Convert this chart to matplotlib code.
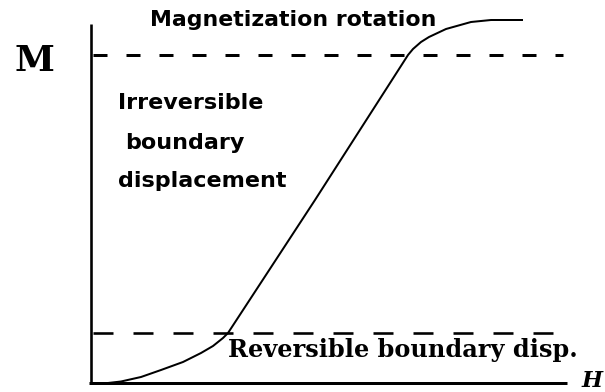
import matplotlib
matplotlib.use("Agg")
import matplotlib.pyplot as plt

plt.rcParams['lines.scale_dashes'] = False

# Curve: H (field) and M (magnetization), arbitrary units
H_curve = [17, 30, 50, 70, 92, 110, 122, 132, 137, 224, 317, 322, 330, 338, 355, 380, 400, 431]
M_curve = [0, 1.5, 6, 13, 21, 30, 37, 45, 50, 183, 328, 334, 341, 346, 354, 361, 363, 363]

# Dashed reference levels
upper_level = 328
lower_level = 50
upper_span = [2, 472]
lower_span = [2, 466]

rotation_label = "Magnetization rotation"
irreversible_lines = ["Irreversible", "boundary", "displacement"]
reversible_label = "Reversible boundary disp."
y_label = "M"
x_label = "H"

px = 1 / 100
fig = plt.figure(figsize=(605 * px, 392 * px), dpi=100)
ax = fig.add_axes([0, 0, 1, 1])
ax.set_xlim(-91, 514)
ax.set_ylim(-9, 383)
ax.axis('off')

pt = 0.72  # points per pixel at 100 dpi

# axes lines
ax.plot([0, 0], [0, 359], color='black', lw=2.6 * pt, solid_capstyle='butt')
ax.plot([-2, 476], [0, 0], color='black', lw=3.0 * pt, solid_capstyle='butt')

# dashed levels
ax.plot(upper_span, [upper_level, upper_level], color='black', lw=3.0 * pt,
        dashes=(14 * pt, 19 * pt))
ax.plot(lower_span, [lower_level, lower_level], color='black', lw=2.6 * pt,
        dashes=(20 * pt, 20 * pt))

# curve
ax.plot(H_curve, M_curve, color='black', lw=2.0 * pt, solid_joinstyle='round')

# texts
ax.text(59, 363, rotation_label, fontsize=15.8, fontweight='bold',
        family='DejaVu Sans', ha='left', va='center')
for (x0, y0), line in zip([(27, 280), (34, 240), (27, 202)], irreversible_lines):
    ax.text(x0, y0, line, fontsize=16, fontweight='bold',
            family='DejaVu Sans', ha='left', va='center')
ax.text(137, 33, reversible_label, fontsize=17.3, fontweight='bold',
        family='DejaVu Serif', ha='left', va='center')
ax.text(-56, 322, y_label, fontsize=26, fontweight='bold',
        family='DejaVu Serif', ha='center', va='center')
ax.text(501, 2, x_label, fontsize=16, fontweight='bold', style='italic',
        family='DejaVu Serif', ha='center', va='center')

fig.savefig('out.png', dpi=100)
